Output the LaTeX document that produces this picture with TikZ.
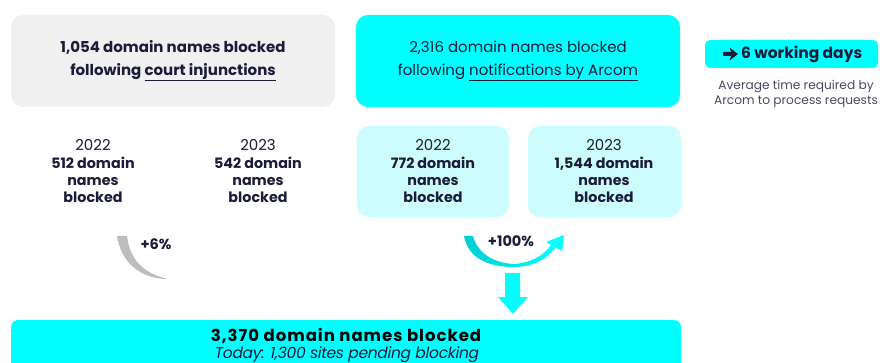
\documentclass[tikz,border=0pt]{standalone}
\usepackage{fontspec}
\setmainfont{Poppins}
\definecolor{ink}{HTML}{1B1B3A}
\definecolor{cyanbox}{HTML}{00FFFF}
\definecolor{lightcyan}{HTML}{CCFCFC}
\definecolor{greybox}{HTML}{F0F0F0}
\definecolor{greyarc}{HTML}{BDBDBD}
\definecolor{tealarc}{HTML}{00CCD4}
\begin{document}
\begin{tikzpicture}[x=1pt,y=-1pt,
  bigbox/.style={rounded corners=12pt},
  title/.style={text=ink,align=center,font=\fontsize{15}{22.5}\selectfont},
  year/.style={text=ink,align=center,font=\fontsize{15}{17}\selectfont},
  count/.style={text=ink,align=center,font=\bfseries\fontsize{14.3}{17}\selectfont},
  note/.style={text=ink!80,align=center,font=\fontsize{12.2}{14.5}\selectfont},
  pct/.style={text=ink,font=\bfseries\fontsize{14.5}{16}\selectfont}]
\useasboundingbox (0,0) rectangle (880,363);
\begin{scope}
\clip (0,0) rectangle (880,363);
% top boxes
\fill[greybox,bigbox] (11,15) rectangle (335,107);
\fill[cyanbox,bigbox] (356,15) rectangle (680,107);
\node[title,font=\bfseries\fontsize{15}{22.5}\selectfont] (court) at (173,61) {1,054 domain names blocked\\following \underline{court injunctions}};
\node[title] (arcom) at (518,61) {2,316 domain names blocked\\following \underline{notifications by Arcom}};
% working days
\fill[cyanbox,rounded corners=5pt] (705,40) rectangle (878,68);
\fill[ink] (723,52) -- (731,52) -- (729.5,47.5) -- (738,54) -- (729.5,60.5) -- (731,56) -- (723,56) -- cycle;
\node[text=ink,font=\bfseries\fontsize{15.5}{17}\selectfont,anchor=west,inner sep=0pt] (days) at (741,54) {6 working days};
\node[note] (avg) at (796,94) {Average time required by\\Arcom to process requests};
% left years
\node[year] (y22l) at (93,145) {2022};
\node[count] (c22l) at (93,180) {512 domain\\names\\blocked};
\node[year] (y23l) at (258,145) {2023};
\node[count] (c23l) at (258,180) {542 domain\\names\\blocked};
% right year boxes
\fill[lightcyan,bigbox] (357,126) rectangle (509,217);
\fill[lightcyan,bigbox] (528,126) rectangle (681,217);
\node[year] (y22r) at (433,145) {2022};
\node[count] (c22r) at (433,180) {772 domain\\names\\blocked};
\node[year] (y23r) at (604,145) {2023};
\node[count] (c23r) at (604,180) {1,544 domain\\names\\blocked};
% grey arc
\fill[greyarc] (117,236) .. controls (121,262) and (140,279) .. (168,279)
  .. controls (146,274) and (130,262) .. (127,236) -- cycle;
\node[pct] (p6) at (156,244) {+6\%};
% cyan arc
\shade[left color=tealarc,right color=cyanbox] (464,236) .. controls (468,258) and (488,267) .. (514,267)
  .. controls (533,267) and (547,259) .. (555,248) -- (551,245)
  .. controls (544,256) and (530,263) .. (514,264)
  .. controls (494,263) and (478,254) .. (473,236) -- cycle;
\fill[cyanbox] (564,235) -- (562,251) -- (546,242) -- cycle;
\node[pct] (p100) at (511,241) {+100\%};
% down block arrow
\fill[cyanbox] (505,273) -- (520,273) -- (520,297) -- (528,297) -- (513,314) -- (498,297) -- (505,297) -- cycle;
% bottom box
\fill[cyanbox,rounded corners=7pt] (11,320) rectangle (681,380);
\node[text=black,font=\bfseries\fontsize{16.5}{18}\selectfont\addfontfeatures{LetterSpace=6}] (total) at (346,336) {3,370 domain names blocked};
\node[text=ink,font=\itshape\fontsize{15.5}{17}\selectfont\addfontfeatures{LetterSpace=-2}] (today) at (347,355) {Today: 1,300 sites pending blocking};
\end{scope}
\end{tikzpicture}
\end{document}
